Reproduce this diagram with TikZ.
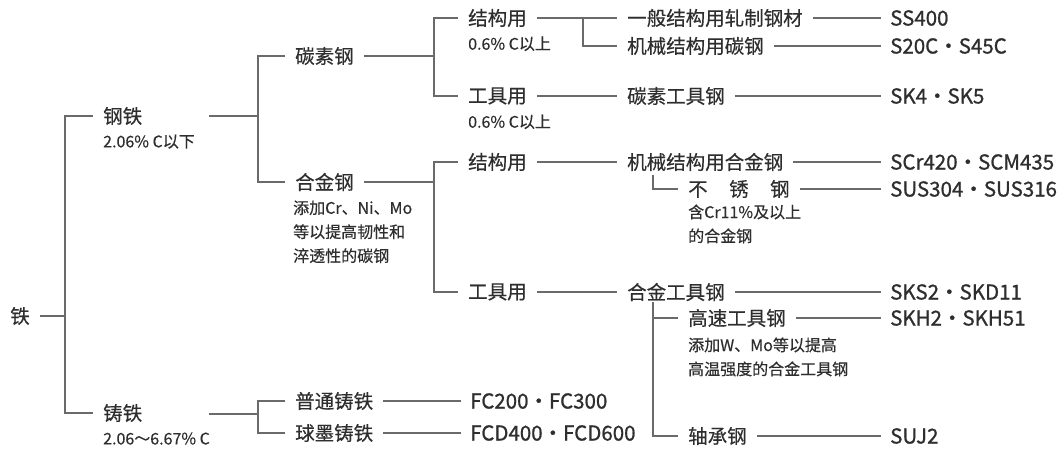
\documentclass[tikz,border=0pt]{standalone}
\usepackage{fontspec}
\setmainfont{Noto Sans CJK SC}[FakeBold=0.35]
\newfontfamily\codefont{Noto Sans CJK SC}[FakeBold=0.9]
\definecolor{txt}{HTML}{2E2E2E}
\definecolor{lne}{HTML}{6A6A6A}
\begin{document}
\begin{tikzpicture}[x=1pt,y=-1pt,
  lbl/.style={anchor=west, inner xsep=10pt, inner ysep=1pt, text=txt, font=\fontsize{19.5}{23}\selectfont},
  code/.style={lbl, inner xsep=9pt, font=\codefont\fontsize{20.5}{24}\selectfont},
  sub/.style={anchor=north west, inner sep=0pt, align=left, text=txt, font=\fontsize{16}{24}\selectfont},
  ln/.style={draw=lne, line width=1.1pt}]
\useasboundingbox[fill=white] (0,0) rectangle (1058,453);

% level 0/1
\node[lbl] (tie) at (0,316) {铁};
\coordinate (bA) at (65,316);
\node[lbl] (gangtie) at (93,116) {钢铁};
\node[sub] (gsub) at (103,134.3) {2.06\% C以下};
\node[lbl] (zhutie) at (93,413) {铸铁};
\node[sub] (zsub) at (103,432.3) {2.06～6.67\% C};
\draw[ln] (tie.east) -- (bA);
\draw[ln] (gangtie.west) -| (bA) |- (zhutie.west);

% steel
\coordinate (gE) at (209,116);
\coordinate (bB) at (258,116);
\node[lbl] (tansu) at (285,56) {碳素钢};
\node[lbl] (hejin) at (285,182) {合金钢};
\node[sub] (hsub) at (293,200.3) {添加Cr、Ni、Mo\\等以提高韧性和\\淬透性的碳钢};
\draw[ln] (gE) -- (bB);
\draw[ln] (tansu.west) -| (bB) |- (hejin.west);

% carbon steel
\coordinate (bC) at (434,56);
\node[lbl] (jg1) at (458,18) {结构用};
\node[sub] at (468,36.3) {0.6\% C以上};
\node[lbl] (gj1) at (458,96) {工具用};
\node[sub] at (468,114.3) {0.6\% C以上};
\draw[ln] (tansu.east) -- (bC);
\draw[ln] (jg1.west) -| (bC) |- (gj1.west);

\coordinate (bD) at (583,18);
\node[lbl] (yiban) at (617,18) {一般结构用轧制钢材};
\node[lbl] (jixie1) at (617,46) {机械结构用碳钢};
\node[lbl] (tsgj) at (617,96) {碳素工具钢};
\draw[ln] (jg1.east) -- (yiban.west);
\draw[ln] (bD) |- (jixie1.west);
\draw[ln] (gj1.east) -- (tsgj.west);

\node[code] (c1) at (881,18) {SS400};
\node[code] (c2) at (881,46) {S20C・S45C};
\node[code] (c3) at (881,96) {SK4・SK5};
\draw[ln] (yiban.east) -- (c1.west);
\draw[ln] (jixie1.east) -- (c2.west);
\draw[ln] (tsgj.east) -- (c3.west);

% alloy steel
\coordinate (bE) at (434,182);
\node[lbl] (jg2) at (458,162) {结构用};
\node[lbl] (gj2) at (458,292) {工具用};
\draw[ln] (hejin.east) -- (bE);
\draw[ln] (jg2.west) -| (bE) |- (gj2.west);

\node[lbl] (jxhj) at (617,162) {机械结构用合金钢};
\node[lbl] (buxiu) at (678,189) {不\hspace{1.1em}锈\hspace{1.1em}钢};
\node[sub] at (688,204.3) {含Cr11\%及以上\\的合金钢};
\coordinate (s1) at (653,175);
\draw[ln] (jg2.east) -- (jxhj.west);
\draw[ln] (s1) |- (buxiu.west);

\node[lbl] (hjgj) at (617,292) {合金工具钢};
\node[lbl] (gs) at (678,318) {高速工具钢};
\node[sub] at (688,337.3) {添加W、Mo等以提高\\高温强度的合金工具钢};
\node[lbl] (zc) at (678,436) {轴承钢};
\coordinate (s2) at (653,302);
\draw[ln] (gj2.east) -- (hjgj.west);
\draw[ln] (s2) |- (zc.west);
\draw[ln] (gs.west -| s2) -- (gs.west);

\node[code] (c4) at (881,162) {SCr420・SCM435};
\node[code] (c5) at (881,189) {SUS304・SUS316};
\node[code] (c6) at (881,292) {SKS2・SKD11};
\node[code] (c7) at (881,318) {SKH2・SKH51};
\node[code] (c8) at (881,436) {SUJ2};
\draw[ln] (jxhj.east) -- (c4.west);
\draw[ln] (buxiu.east) -- (c5.west);
\draw[ln] (hjgj.east) -- (c6.west);
\draw[ln] (gs.east) -- (c7.west);
\draw[ln] (zc.east) -- (c8.west);

% cast iron
\coordinate (zE) at (209,414);
\coordinate (bG) at (258,414);
\node[lbl] (pt) at (285,401) {普通铸铁};
\node[lbl] (qm) at (285,433) {球墨铸铁};
\draw[ln] (zE) -- (bG);
\draw[ln] (pt.west) -| (bG) |- (qm.west);
\node[code] (c9) at (461,401) {FC200・FC300};
\node[code] (c10) at (461,433) {FCD400・FCD600};
\draw[ln] (pt.east) -- (c9.west);
\draw[ln] (qm.east) -- (c10.west);
\end{tikzpicture}
\end{document}
